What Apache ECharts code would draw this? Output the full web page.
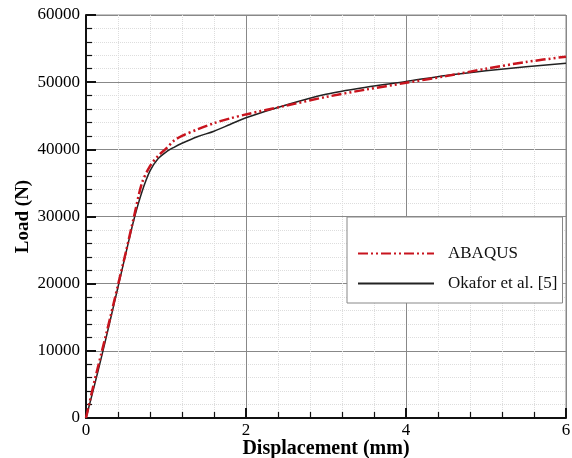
<!DOCTYPE html>
<html>
<head>
<meta charset="utf-8">
<script src="https://cdn.jsdelivr.net/npm/echarts@6/dist/echarts.min.js"></script>
<style>
  html, body { margin: 0; padding: 0; background: #fff; }
  #chart { width: 572px; height: 458px; }
</style>
</head>
<body>
<div id="chart"></div>
<script>
// 位移 (mm)
const dispX = [0, 0.1, 0.2, 0.3, 0.4, 0.5, 0.6, 0.7, 0.8, 0.9, 1.0, 1.1, 1.2, 1.4, 1.6, 1.8, 2.0, 2.5, 3.0, 3.5, 4.0, 4.5, 5.0, 5.5, 6.0]
// ABAQUS 载荷 (N)
const abaqusLoad = [0, 5200, 10000, 14800, 19800, 24800, 30000, 35000, 37500, 39000, 40100, 41300, 42000, 43000, 43900, 44600, 45200, 46500, 47800, 48900, 49900, 50900, 52000, 53000, 53800]
// Okafor et al. [5] 载荷 (N)
const okaforLoad = [0, 4600, 9400, 14400, 19500, 24600, 29600, 33700, 36800, 38600, 39600, 40300, 40900, 41900, 42700, 43700, 44700, 46600, 48200, 49250, 50100, 51000, 51700, 52300, 52800]

const seriesNames = ['ABAQUS', 'Okafor et al. [5]']

const pairs = (xs, ys) => xs.map((x, i) => [x, ys[i]])

const font = 'Liberation Serif'
const myChart = echarts.init(document.querySelector('#chart'))

const option = {
  animation: false,
  backgroundColor: '#fff',
  grid: {
    left: 86, right: 6, top: 15, bottom: 40,
    outerBoundsMode: 'none',
    containLabel: false,
    show: true, borderColor: '#888', borderWidth: 1
  },
  legend: {
    data: seriesNames,
    orient: 'vertical',
    left: 347,
    top: 217,
    backgroundColor: '#fff',
    borderColor: '#888',
    borderWidth: 1,
    padding: [28, 5, 11, 10],
    itemWidth: 76,
    itemHeight: 14,
    itemGap: 13,
    itemStyle: { opacity: 0 },
    textStyle: { fontFamily: font, fontSize: 17, color: '#111', lineHeight: 17, padding: [0, 0, 0, 9] }
  },
  xAxis: {
    type: 'value',
    min: 0, max: 6, interval: 2,
    name: 'Displacement (mm)',
    nameLocation: 'middle',
    nameGap: 21,
    nameMoveOverlap: false,
    nameTextStyle: { fontFamily: font, fontSize: 20, fontWeight: 'bold', color: '#000' },
    axisLine: { lineStyle: { color: '#111', width: 2 } },
    axisTick: { inside: true, length: 10, lineStyle: { color: '#111', width: 2 } },
    minorTick: { show: true, splitNumber: 5, length: 6, lineStyle: { color: '#111', width: 1.2 } },
    axisLabel: { fontFamily: font, fontSize: 17, color: '#000', margin: 4 },
    splitLine: { lineStyle: { color: '#888', width: 1 } },
    minorSplitLine: { show: true, lineStyle: { color: '#ddd', type: 'dotted', width: 1 } }
  },
  yAxis: {
    type: 'value',
    min: 0, max: 60000, interval: 10000,
    name: 'Load (N)',
    nameLocation: 'middle',
    nameGap: 53,
    nameMoveOverlap: false,
    nameTextStyle: { fontFamily: font, fontSize: 19, fontWeight: 'bold', color: '#000' },
    axisLine: { show: true, lineStyle: { color: '#111', width: 2 } },
    axisTick: { show: true, inside: true, length: 10, lineStyle: { color: '#111', width: 2 } },
    minorTick: { show: true, splitNumber: 5, length: 6, lineStyle: { color: '#111', width: 1.2 } },
    axisLabel: { fontFamily: font, fontSize: 17, color: '#000', margin: 6, formatter: v => String(v) },
    splitLine: { lineStyle: { color: '#888', width: 1 } },
    minorSplitLine: { show: true, lineStyle: { color: '#ddd', type: 'dotted', width: 1 } }
  },
  series: [
    {
      name: seriesNames[0],
      type: 'line',
      data: pairs(dispX, abaqusLoad),
      symbol: 'none',
      smooth: 0.3,
      z: 3,
      lineStyle: { color: '#c8141e', width: 2.5, type: [10, 3, 2, 3, 2, 3] },
      itemStyle: { color: '#c8141e' }
    },
    {
      name: seriesNames[1],
      type: 'line',
      data: pairs(dispX, okaforLoad),
      symbol: 'none',
      smooth: 0.3,
      z: 2,
      lineStyle: { color: '#222', width: 1.5 },
      itemStyle: { color: '#222' }
    }
  ]
}

myChart.setOption(option)
</script>
</body>
</html>
